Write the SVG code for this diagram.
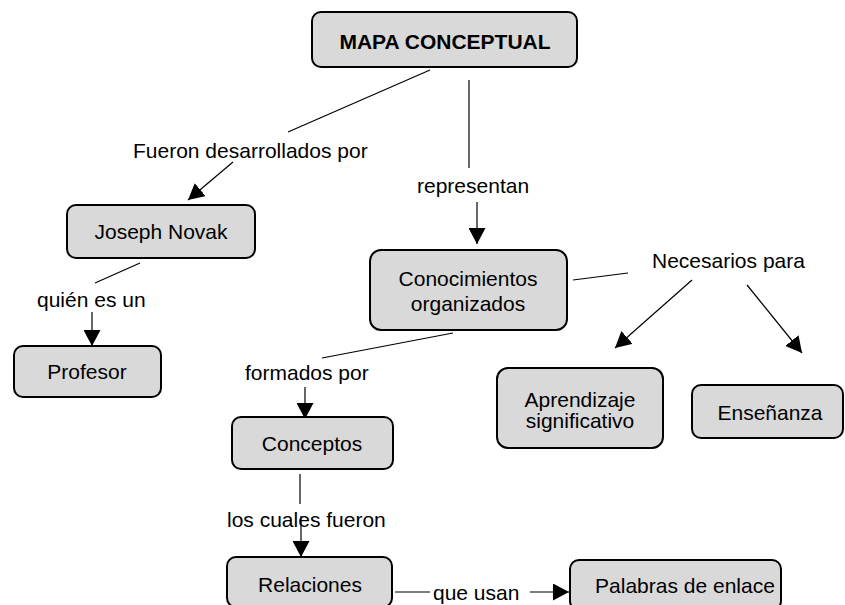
<svg xmlns="http://www.w3.org/2000/svg" width="845" height="605" viewBox="0 0 845 605">
<style>
.box{fill:#d9d9d9;stroke:#000;stroke-width:2}
.t{font-family:"Liberation Sans",Arial,sans-serif;font-size:21px;fill:#000;text-anchor:middle}
.b{font-weight:bold}
.lbl{font-family:"Liberation Sans",Arial,sans-serif;font-size:21px;fill:#000}
.c{stroke:#000;stroke-width:1.2;fill:none}
.a{marker-end:url(#ah)}
</style>
<defs>
<marker id="ah" markerUnits="userSpaceOnUse" viewBox="0 0 16 17" refX="16" refY="8.5" markerWidth="16" markerHeight="17" orient="auto">
<path d="M0,0 L16,8.5 L0,17 z" fill="#000"/>
</marker>
</defs>
<rect width="845" height="605" fill="#fff"/>
<g id="connectors">
<line class="c" x1="430" y1="70" x2="288" y2="132"/>
<text class="lbl" x="133" y="158">Fueron desarrollados por</text>
<line class="c a" x1="233" y1="162" x2="188" y2="200"/>
<line class="c" x1="469" y1="80" x2="469" y2="168"/>
<text class="lbl" x="417" y="193">representan</text>
<line class="c a" x1="477" y1="202" x2="477" y2="244"/>
<line class="c" x1="140" y1="263" x2="95" y2="283"/>
<text class="lbl" x="37" y="307">quién es un</text>
<line class="c a" x1="92" y1="312" x2="92" y2="346"/>
<line class="c" x1="573" y1="280" x2="628" y2="273"/>
<text class="lbl" x="652" y="268">Necesarios para</text>
<line class="c a" x1="692" y1="280" x2="615" y2="348"/>
<line class="c a" x1="747" y1="285" x2="802" y2="353"/>
<line class="c" x1="453" y1="333" x2="322" y2="358"/>
<text class="lbl" x="245" y="380">formados por</text>
<line class="c a" x1="305" y1="387" x2="305" y2="419"/>
<line class="c" x1="300" y1="474" x2="300" y2="504"/>
<text class="lbl" x="227" y="527">los cuales fueron</text>
<line class="c a" x1="301" y1="516" x2="301" y2="557"/>
<line class="c" x1="395" y1="592" x2="430" y2="592"/>
<text class="lbl" x="433" y="600">que usan</text>
<line class="c a" x1="530" y1="592" x2="569" y2="592"/>
</g>
<g id="mapa"><rect class="box" x="312" y="12" width="265" height="55" rx="9"/><text class="t b" x="445" y="49">MAPA CONCEPTUAL</text></g>
<g id="novak"><rect class="box" x="67" y="205" width="188" height="53" rx="9"/><text class="t" x="161" y="239">Joseph Novak</text></g>
<g id="profesor"><rect class="box" x="14" y="346" width="147" height="51" rx="9"/><text class="t" x="87" y="379">Profesor</text></g>
<g id="conocimientos"><rect class="box" x="370" y="250" width="197" height="80" rx="11"/><text class="t" x="468" y="286">Conocimientos</text><text class="t" x="468" y="311">organizados</text></g>
<g id="aprendizaje"><rect class="box" x="497" y="368" width="166" height="80" rx="11"/><text class="t" x="580" y="407">Aprendizaje</text><text class="t" x="580" y="428">significativo</text></g>
<g id="ensenanza"><rect class="box" x="692" y="385" width="151" height="53" rx="9"/><text class="t" x="770" y="420">Enseñanza</text></g>
<g id="conceptos"><rect class="box" x="232" y="417" width="161" height="52" rx="9"/><text class="t" x="312" y="451">Conceptos</text></g>
<g id="relaciones"><rect class="box" x="227" y="557" width="165" height="50" rx="9"/><text class="t" x="310" y="592">Relaciones</text></g>
<g id="palabras"><rect class="box" x="570" y="560" width="211" height="50" rx="9"/><text class="t" x="685" y="593">Palabras de enlace</text></g>
</svg>
